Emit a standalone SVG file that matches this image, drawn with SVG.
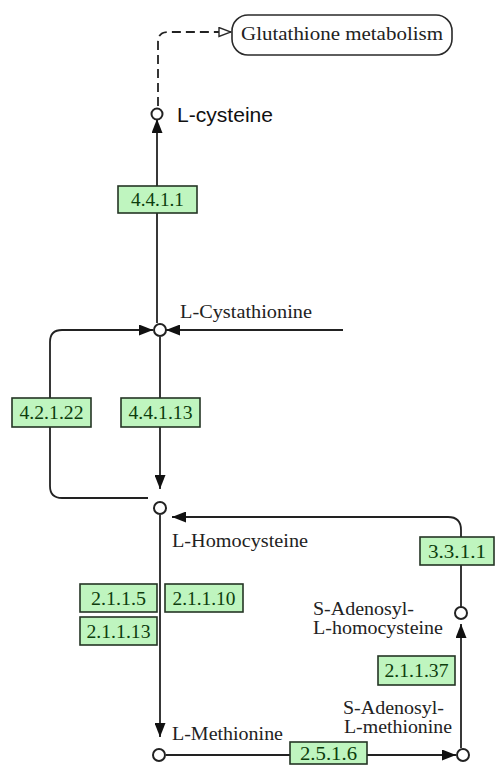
<svg xmlns="http://www.w3.org/2000/svg" width="497" height="765" viewBox="0 0 497 765">
<style>
.bg{fill:#ffffff}
.ln{fill:none;stroke:#222222;stroke-width:1.8}
.dash{fill:none;stroke:#222222;stroke-width:1.8;stroke-dasharray:9,5}
.cpd{fill:#ffffff;stroke:#222222;stroke-width:2}
.enz rect{fill:#bff5bf;stroke:#253525;stroke-width:1.6}
.enz text{font-family:"Liberation Serif","Times New Roman",serif;font-size:19px;fill:#0d3d0d;text-anchor:middle}
.lbl{font-family:"Liberation Serif","Times New Roman",serif;font-size:18px;fill:#222222}
.lbls{font-family:"Liberation Sans",Arial,sans-serif;font-size:21px;fill:#111111}
.map rect{fill:#ffffff;stroke:#2a2a2a;stroke-width:1.6}
</style>
<defs>
<marker id="ah" markerUnits="userSpaceOnUse" markerWidth="14" markerHeight="11" refX="14" refY="5.5" orient="auto">
<path d="M0,0 L14,5.5 L0,11 z" fill="#111111"/>
</marker>
<marker id="oh" markerUnits="userSpaceOnUse" markerWidth="14" markerHeight="11" refX="13" refY="5.5" orient="auto">
<path d="M1,1 L13,5.5 L1,10 z" fill="#ffffff" stroke="#2a2a2a" stroke-width="1.4"/>
</marker>
</defs>
<rect class="bg" x="0" y="0" width="497" height="765"/>

<g id="connectors">
<path class="dash" d="M158,106 V42 Q158,32 168,32 H231" marker-end="url(#oh)"/>
<path class="ln" d="M157,323 V119" marker-end="url(#ah)"/>
<path class="ln" d="M343,330 H166" marker-end="url(#ah)"/>
<path class="ln" d="M148,498 H62 Q50,498 50,486 V342 Q50,330 62,330 H153" marker-end="url(#ah)"/>
<path class="ln" d="M160,337 V489" marker-end="url(#ah)"/>
<path class="ln" d="M160,515 V737" marker-end="url(#ah)"/>
<path class="ln" d="M461,607 V530 Q461,517 448,517 H172" marker-end="url(#ah)"/>
<path class="ln" d="M166,755 H456" marker-end="url(#ah)"/>
<path class="ln" d="M461,748 V624" marker-end="url(#ah)"/>
</g>

<g id="glutathione-metabolism" class="map">
<rect x="232" y="15" width="220" height="40" rx="16" ry="16"/>
<text class="lbl" x="342" y="40" text-anchor="middle" textLength="202" lengthAdjust="spacingAndGlyphs">Glutathione metabolism</text>
</g>

<g id="l-cysteine">
<circle class="cpd" cx="157" cy="114" r="5.5"/>
<text class="lbls" x="177" y="122" textLength="96" lengthAdjust="spacingAndGlyphs">L-cysteine</text>
</g>

<g id="l-cystathionine">
<circle class="cpd" cx="160" cy="330" r="6"/>
<text class="lbl" x="180" y="318" textLength="132" lengthAdjust="spacingAndGlyphs">L-Cystathionine</text>
</g>

<g id="l-homocysteine">
<circle class="cpd" cx="160" cy="508" r="6"/>
<text class="lbl" x="172" y="547" textLength="136" lengthAdjust="spacingAndGlyphs">L-Homocysteine</text>
</g>

<g id="l-methionine">
<circle class="cpd" cx="159" cy="755" r="6"/>
<text class="lbl" x="172" y="740" textLength="111" lengthAdjust="spacingAndGlyphs">L-Methionine</text>
</g>

<g id="s-adenosyl-l-methionine">
<circle class="cpd" cx="463" cy="755" r="6"/>
<text class="lbl" x="343" y="714" textLength="101" lengthAdjust="spacingAndGlyphs">S-Adenosyl-</text>
<text class="lbl" x="344" y="733" textLength="108" lengthAdjust="spacingAndGlyphs">L-methionine</text>
</g>

<g id="s-adenosyl-l-homocysteine">
<circle class="cpd" cx="461" cy="613" r="6"/>
<text class="lbl" x="313" y="615" textLength="101" lengthAdjust="spacingAndGlyphs">S-Adenosyl-</text>
<text class="lbl" x="313" y="634" textLength="130" lengthAdjust="spacingAndGlyphs">L-homocysteine</text>
</g>

<g id="enz-4.4.1.1" class="enz">
<rect x="118" y="186" width="79" height="27"/>
<text x="157.5" y="206" textLength="53" lengthAdjust="spacingAndGlyphs">4.4.1.1</text>
</g>
<g id="enz-4.2.1.22" class="enz">
<rect x="12" y="398" width="79" height="29"/>
<text x="51.5" y="419" textLength="64" lengthAdjust="spacingAndGlyphs">4.2.1.22</text>
</g>
<g id="enz-4.4.1.13" class="enz">
<rect x="121" y="398" width="79" height="29"/>
<text x="160.5" y="419" textLength="64" lengthAdjust="spacingAndGlyphs">4.4.1.13</text>
</g>
<g id="enz-2.1.1.5" class="enz">
<rect x="80" y="584" width="77" height="28"/>
<text x="118.5" y="605" textLength="55" lengthAdjust="spacingAndGlyphs">2.1.1.5</text>
</g>
<g id="enz-2.1.1.10" class="enz">
<rect x="165" y="584" width="78" height="28"/>
<text x="204" y="605" textLength="63" lengthAdjust="spacingAndGlyphs">2.1.1.10</text>
</g>
<g id="enz-2.1.1.13" class="enz">
<rect x="80" y="617" width="77" height="28"/>
<text x="118.5" y="638" textLength="64" lengthAdjust="spacingAndGlyphs">2.1.1.13</text>
</g>
<g id="enz-3.3.1.1" class="enz">
<rect x="420" y="537" width="74" height="28"/>
<text x="457" y="558" textLength="58" lengthAdjust="spacingAndGlyphs">3.3.1.1</text>
</g>
<g id="enz-2.1.1.37" class="enz">
<rect x="378" y="656" width="77" height="29"/>
<text x="416.5" y="677" textLength="64" lengthAdjust="spacingAndGlyphs">2.1.1.37</text>
</g>
<g id="enz-2.5.1.6" class="enz">
<rect x="290" y="742" width="77" height="22"/>
<text x="328.5" y="760" font-size="18" textLength="57" lengthAdjust="spacingAndGlyphs">2.5.1.6</text>
</g>
</svg>
